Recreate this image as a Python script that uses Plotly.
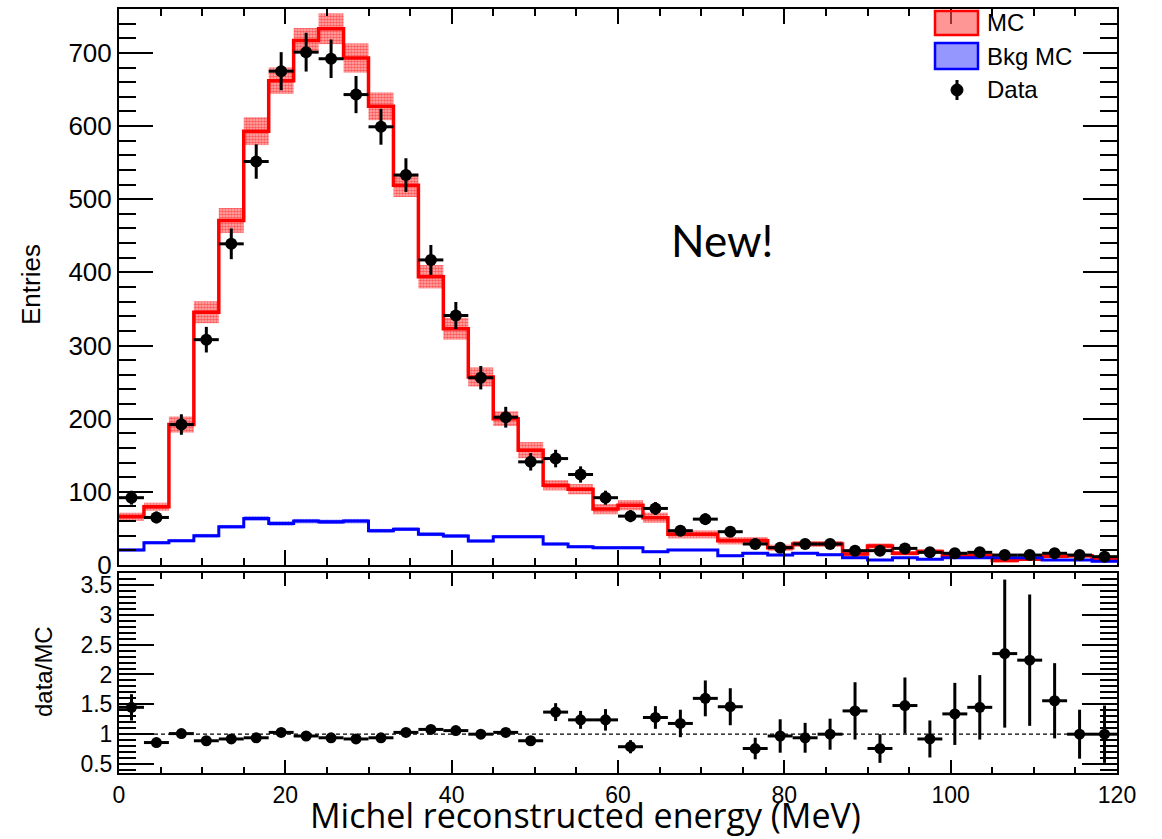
import plotly.graph_objects as go

# ---------------- data ----------------
BIN_WIDTH = 3
bin_edges = list(range(0, 121, BIN_WIDTH))          # 0..120 MeV, 40 bins
bin_centers = [e + BIN_WIDTH / 2 for e in bin_edges[:-1]]

mc_values = [66, 79.6, 192, 345.5, 471, 593, 662, 717, 733, 693,
             627, 519, 394, 323, 257, 200, 157, 109, 103.6, 76.4,
             81.8, 64.6, 41.9, 41.9, 33.2, 33.2, 23.7, 28.6, 28.6, 15,
             26, 16, 18.5, 12.5, 13, 6.2, 8, 12, 12.5, 8]
mc_errors = [5.5, 5.5, 11, 15, 17, 19, 18, 17, 21, 20,
             19, 16, 16, 15, 13, 10, 11, 7, 7, 7,
             7, 7, 5.5, 5.5, 5, 5, 4, 4, 4, 3.5,
             3.5, 3, 3, 3, 3, 2.5, 2.5, 2.5, 2.5, 2]

bkg_values = [20.5, 30.5, 33.2, 40, 52.3, 63.7, 56.8, 60, 59, 60,
              46.9, 49, 42, 39.6, 32.7, 38.7, 38.7, 28.7, 25, 23.7,
              23.7, 18.2, 20.5, 20.5, 12.8, 16, 13.6, 16, 14, 10,
              6.8, 10, 8, 10, 10, 10, 10, 7, 7, 5]
bkg_errors = [2, 2, 2, 2.5, 2.5, 3, 3, 3, 3, 3,
              2.5, 2.5, 2.5, 2.5, 2, 2, 2, 2, 2, 2,
              2, 1.5, 1.5, 1.5, 1.5, 1.5, 1.5, 1.5, 1.5, 1.5,
              1.2, 1.2, 1.2, 1.2, 1.2, 1.2, 1.2, 1.2, 1.2, 1.2]

data_values = [92, 65, 192, 308, 439, 551.5, 675, 701, 692, 643,
               599, 533, 417, 341, 256, 202, 141, 145.5, 123.7, 92,
               66.8, 77.3, 46.9, 62.7, 45.5, 28.7, 23.7, 28.7, 28.7, 19.6,
               19.6, 22.7, 17.3, 16, 17.3, 13.6, 13.6, 16, 13.6, 11.4]
data_errors = [9.5, 8, 14, 17.5, 21, 23.5, 26, 26.5, 26.3, 25.4,
               24.5, 23, 20.4, 18.5, 16, 14.2, 11.9, 12, 11.1, 9.6,
               8.2, 8.8, 6.9, 7.9, 6.7, 5.4, 4.9, 5.4, 5.4, 4.4,
               4.4, 4.8, 4.2, 4, 4.2, 3.7, 3.7, 4, 3.7, 3.4]

ratio_values = [1.45, 0.86, 1.01, 0.89, 0.92, 0.94, 1.03, 0.97, 0.94, 0.92,
                0.94, 1.03, 1.08, 1.06, 1.00, 1.03, 0.89, 1.37, 1.24, 1.24,
                0.79, 1.28, 1.18, 1.60, 1.46, 0.76, 0.97, 0.94, 1.00, 1.39,
                0.76, 1.48, 0.92, 1.34, 1.45, 2.35, 2.24, 1.56, 1.00, 1.00]
ratio_errors = [0.22, 0.05, 0.05, 0.04, 0.04, 0.04, 0.04, 0.04, 0.04, 0.04,
                0.04, 0.05, 0.05, 0.06, 0.06, 0.07, 0.07, 0.15, 0.15, 0.18,
                0.11, 0.19, 0.23, 0.30, 0.31, 0.18, 0.28, 0.25, 0.26, 0.48,
                0.24, 0.47, 0.31, 0.52, 0.54, 1.24, 1.10, 0.63, 0.41, 0.48]

x_title = "Michel reconstructed energy (MeV)"
y_title_top = "Entries"
y_title_bottom = "data/MC"
label_new = "New!"

# ---------------- figure ----------------
W, H = 1162, 839
ML, MR, MT, MB = 119, 45, 9, 66
plot_h = H - MT - MB
def py(pix):  # pixel row -> paper y
    return (H - MB - pix) / plot_h
def px(pix):  # pixel column -> paper x
    return (pix - ML) / (W - ML - MR)

RED = "#ff0000"
BLUE = "#0000ff"
TICKFONT = "Liberation Sans, Arial, Helvetica, sans-serif"

fig = go.Figure()

step_x = bin_edges
def step_y(v):
    return list(v) + [v[-1]]

# MC uncertainty band
fig.add_trace(go.Bar(
    x=bin_centers, y=[2 * e for e in mc_errors],
    base=[v - e for v, e in zip(mc_values, mc_errors)],
    width=BIN_WIDTH, xaxis="x", yaxis="y",
    marker=dict(color="rgba(255,255,255,0)", line=dict(width=0),
                pattern=dict(shape=".", fgcolor=RED, bgcolor="rgba(255,110,110,0.5)",
                             size=3, solidity=0.6)),
    showlegend=False, hoverinfo="skip"))
# Bkg uncertainty band
fig.add_trace(go.Bar(
    x=bin_centers, y=[2 * e for e in bkg_errors],
    base=[v - e for v, e in zip(bkg_values, bkg_errors)],
    width=BIN_WIDTH, xaxis="x", yaxis="y",
    marker=dict(color="rgba(255,255,255,0)", line=dict(width=0),
                pattern=dict(shape=".", fgcolor=BLUE, bgcolor="rgba(120,120,255,0.5)",
                             size=3, solidity=0.6)),
    showlegend=False, hoverinfo="skip"))

# MC histogram line
fig.add_trace(go.Scatter(x=step_x, y=step_y(mc_values), mode="lines",
                         line=dict(color=RED, width=3.5, shape="hv"),
                         xaxis="x", yaxis="y", showlegend=False))
# Bkg histogram line
fig.add_trace(go.Scatter(x=step_x, y=step_y(bkg_values), mode="lines",
                         line=dict(color=BLUE, width=3, shape="hv"),
                         xaxis="x", yaxis="y", showlegend=False))
# Data points
fig.add_trace(go.Scatter(x=bin_centers, y=data_values, mode="markers",
                         marker=dict(color="black", size=12, symbol="circle"),
                         error_y=dict(type="data", array=data_errors, color="black",
                                      thickness=3, width=0),
                         error_x=dict(type="constant", value=BIN_WIDTH / 2, color="black",
                                      thickness=3, width=0),
                         xaxis="x", yaxis="y", showlegend=False))
# Ratio points
fig.add_trace(go.Scatter(x=bin_centers, y=ratio_values, mode="markers",
                         marker=dict(color="black", size=11, symbol="circle"),
                         error_y=dict(type="data", array=ratio_errors, color="black",
                                      thickness=3, width=0),
                         error_x=dict(type="constant", value=BIN_WIDTH / 2, color="black",
                                      thickness=3, width=0),
                         xaxis="x2", yaxis="y2", showlegend=False))

axis_common = dict(showline=True, linecolor="black", linewidth=2, mirror="ticks",
                   ticks="inside", tickcolor="black", tickwidth=2,
                   showgrid=False, zeroline=False, automargin=False,
                   tickfont=dict(family=TICKFONT, size=24, color="black"))

fig.update_layout(
    width=W, height=H,
    margin=dict(l=ML, r=MR, t=MT, b=MB, autoexpand=False),
    paper_bgcolor="white", plot_bgcolor="white",
    barmode="overlay", showlegend=False,
    xaxis=dict(axis_common, domain=[0, 1], range=[0, 120], anchor="y",
               dtick=20, ticklen=15, showticklabels=False,
               minor=dict(dtick=5, ticklen=7, ticks="inside", tickcolor="black", tickwidth=2)),
    yaxis=dict(axis_common, domain=[py(565), 1], range=[0, 760], anchor="x",
               dtick=100, ticklen=34,
               tickfont=dict(family=TICKFONT, size=26, color="black"),
               minor=dict(dtick=20, ticklen=17, ticks="inside", tickcolor="black", tickwidth=2)),
    xaxis2=dict(axis_common, domain=[0, 1], range=[0, 120], anchor="y2", matches="x",
                dtick=20, ticklen=13,
                tickfont=dict(family=TICKFONT, size=23, color="black"),
                minor=dict(dtick=5, ticklen=6, ticks="inside", tickcolor="black", tickwidth=2)),
    yaxis2=dict(axis_common, domain=[0, py(573)], range=[0.35, 3.7], anchor="x2",
                dtick=0.5, ticklen=35,
                tickfont=dict(family=TICKFONT, size=23, color="black"),
                minor=dict(dtick=0.1, ticklen=17, ticks="inside", tickcolor="black", tickwidth=2)),
)

# dashed reference line at ratio = 1
fig.add_shape(type="line", xref="x2", yref="y2", x0=0, x1=120, y0=1, y1=1,
              line=dict(color="black", width=1.2, dash="4px,3px"))

# legend (drawn manually to match the ROOT legend)
fig.add_shape(type="rect", xref="paper", yref="paper",
              x0=px(935), x1=px(978), y0=py(35), y1=py(11),
              line=dict(color=RED, width=2.5), fillcolor="rgba(255,80,80,0.6)")
fig.add_shape(type="rect", xref="paper", yref="paper",
              x0=px(935), x1=px(978), y0=py(69), y1=py(43),
              line=dict(color=BLUE, width=2.5), fillcolor="rgba(80,80,255,0.6)")
fig.add_shape(type="line", xref="paper", yref="paper",
              x0=px(957), x1=px(957), y0=py(100), y1=py(80),
              line=dict(color="black", width=3))
fig.add_shape(type="circle", xref="paper", yref="paper",
              x0=px(951), x1=px(963), y0=py(96), y1=py(84),
              line=dict(color="black", width=1), fillcolor="black")
for txt, yy in [("MC", 22), ("Bkg MC", 56), ("Data", 89)]:
    fig.add_annotation(text=txt, xref="paper", yref="paper", x=px(985), y=py(yy),
                       xanchor="left", yanchor="middle", showarrow=False,
                       font=dict(family=TICKFONT, size=24, color="black"))

# titles
fig.add_annotation(text=y_title_top, xref="paper", yref="paper", x=px(31), y=py(285),
                   textangle=-90, showarrow=False, xanchor="center", yanchor="middle",
                   font=dict(family=TICKFONT, size=26, color="black"))
fig.add_annotation(text=y_title_bottom, xref="paper", yref="paper", x=px(43), y=py(672),
                   textangle=-90, showarrow=False, xanchor="center", yanchor="middle",
                   font=dict(family=TICKFONT, size=24, color="black"))
fig.add_annotation(text=x_title, xref="paper", yref="paper", x=px(585), y=py(815),
                   showarrow=False, xanchor="center", yanchor="middle",
                   font=dict(family="Open Sans, sans-serif", size=34, color="black"))
fig.add_annotation(text=label_new, xref="paper", yref="paper", x=px(722), y=py(240),
                   showarrow=False, xanchor="center", yanchor="middle",
                   font=dict(family="Lato, Open Sans, sans-serif", size=44, color="black"))

fig.write_html("out.html", config={"displayModeBar": False},
               post_script="document.body.style.margin='0px';document.body.style.overflow='hidden';")
